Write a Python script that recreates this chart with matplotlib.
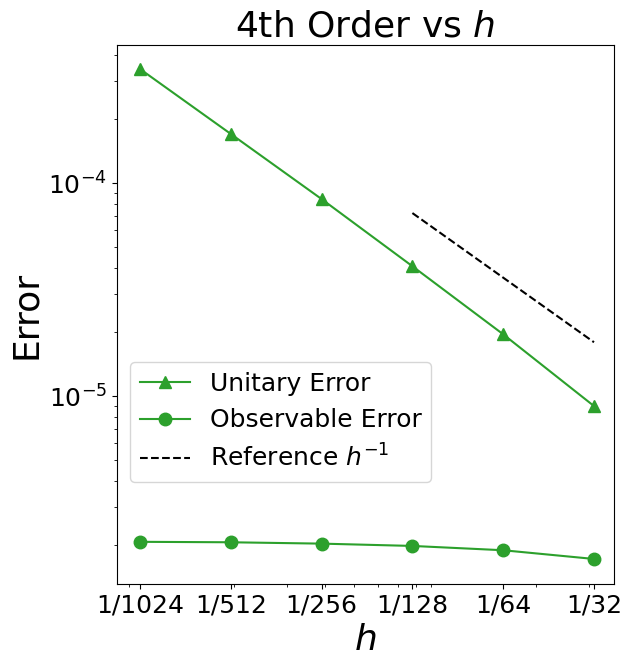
import matplotlib
matplotlib.use("Agg")
import matplotlib.pyplot as plt

h_values = [1/1024, 1/512, 1/256, 1/128, 1/64, 1/32]
h_labels = ["1/1024", "1/512", "1/256", "1/128", "1/64", "1/32"]
unitary_error = [3.43e-4, 1.70e-4, 8.41e-5, 4.07e-5, 1.95e-5, 8.98e-6]
observable_error = [2.07e-6, 2.06e-6, 2.03e-6, 1.98e-6, 1.89e-6, 1.72e-6]
ref_h = [1/128, 1/32]
ref_error = [7.23e-5, 1.79e-5]

fig = plt.figure(figsize=(6.32, 6.66), dpi=100)
ax = fig.add_axes([117/632, 1 - 584/666, (614 - 117)/632, (584 - 45)/666])

green = "#2ca02c"
ax.plot(h_values, unitary_error, marker="^", color=green, markersize=9,
        linewidth=1.5, label="Unitary Error")
ax.plot(h_values, observable_error, marker="o", color=green, markersize=9,
        linewidth=1.5, label="Observable Error")
ax.plot(ref_h, ref_error, "k--", linewidth=1.5, label="Reference $h^{-1}$")

ax.set_xscale("log")
ax.set_yscale("log")
ax.set_xticks(h_values)
ax.set_xticklabels(h_labels)
ax.tick_params(axis="both", which="major", labelsize=18)

ax.set_xlim(10**-3.0866, 10**-1.4388)
ax.set_ylim(10**-5.882, 10**-3.352)

ax.set_title("4th Order vs $h$", fontsize=26)
ax.set_xlabel("$h$", fontsize=26)
ax.set_ylabel("Error", fontsize=26)

ax.legend(fontsize=18, loc="lower left", bbox_to_anchor=(0, 0.166))

fig.savefig("out.png", dpi=100)
